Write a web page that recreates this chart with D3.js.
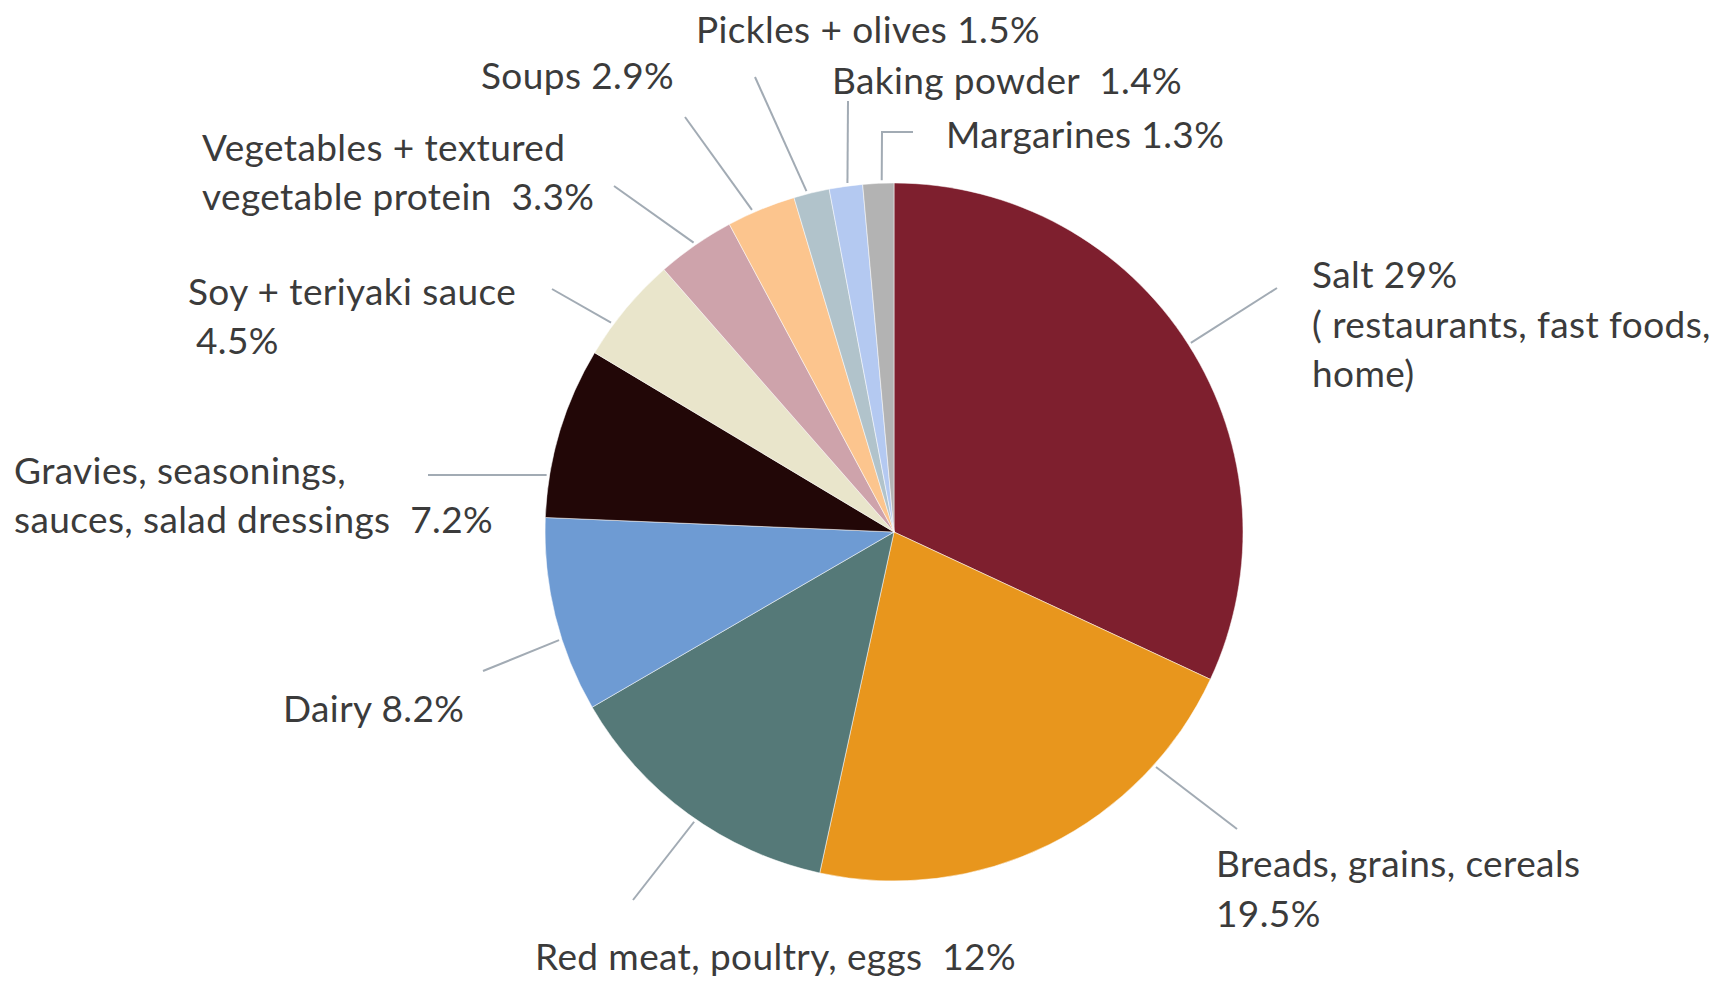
<!DOCTYPE html>
<html>
<head>
<meta charset="utf-8">
<script src="https://cdn.jsdelivr.net/npm/d3@7"></script>
<style>
  html, body { margin: 0; padding: 0; background: #ffffff; }
  svg { display: block; }
  .lbl { font-family: Lato, "Open Sans", sans-serif; font-size: 37px; letter-spacing: 0.4px; fill: #3b3b3b; }
</style>
</head>
<body>
<svg id="chart" width="1720" height="981"></svg>
<script>
// Sources of sodium in the diet (percent shares)
const categories = [
  "Salt", "Breads, grains, cereals", "Red meat, poultry, eggs", "Dairy",
  "Gravies, seasonings, sauces, salad dressings", "Soy + teriyaki sauce",
  "Vegetables + textured vegetable protein", "Soups", "Pickles + olives",
  "Baking powder", "Margarines"
];
const values = [29, 19.5, 12, 8.2, 7.2, 4.5, 3.3, 2.9, 1.5, 1.4, 1.3];
const colors = [
  "#7e1f2e", "#e8961d", "#557978", "#6e9bd3", "#220707", "#e9e5cb",
  "#cea3ab", "#fcc58e", "#b1c3cb", "#b4c9f1", "#b3b3b3"
];
const labelLines = [
  ["Salt 29%", "( restaurants, fast foods,", "home)"],
  ["Breads, grains, cereals", "19.5%"],
  ["Red meat, poultry, eggs  12%"],
  ["Dairy 8.2%"],
  ["Gravies, seasonings,", "sauces, salad dressings  7.2%"],
  ["Soy + teriyaki sauce", "4.5%"],
  ["Vegetables + textured", "vegetable protein  3.3%"],
  ["Soups 2.9%"],
  ["Pickles + olives 1.5%"],
  ["Baking powder  1.4%"],
  ["Margarines 1.3%"]
];

// Label placement: text line anchors, the angle (deg) where the leader meets
// the rim, and the leader's outer points.
const labelLayout = [
  { lines: [[1312, 288], [1312, 338], [1312, 387]], angle: 57.5,  leader: [[1277, 288]] },
  { lines: [[1216, 877], [1216, 927]],              angle: 131.9, leader: [[1237, 829]] },
  { lines: [[535, 970]],                            angle: 214.6, leader: [[633, 900]] },
  { lines: [[283, 722]],                            angle: 252.1, leader: [[483, 671]] },
  { lines: [[14, 484], [14, 533]],                  angle: 279.3, leader: [[428, 475]] },
  { lines: [[188, 305], [196, 354]],                angle: 306.5, leader: [[552, 289]] },
  { lines: [[202, 161], [202, 210]],                angle: 325.3, leader: [[614, 186]] },
  { lines: [[481, 89]],                             angle: 336.2, leader: [[685, 117]] },
  { lines: [[696, 43]],                             angle: 345.6, leader: [[755, 77]] },
  { lines: [[832, 94]],                             angle: 352.4, leader: [[848, 101]] },
  { lines: [[946, 148]],                            angle: 358.0, leader: [[882, 132], [913, 132]] }
];

const cx = 894, cy = 532, radius = 349;
const svg = d3.select("#chart");

const pie = d3.pie().sort(null).value(d => d.value).startAngle(0).endAngle(2 * Math.PI);
const arc = d3.arc().innerRadius(0).outerRadius(radius);
const data = categories.map((c, i) => ({ name: c, value: values[i], color: colors[i] }));
const arcs = pie(data);

const g = svg.append("g").attr("transform", `translate(${cx},${cy})`);
g.selectAll("path.slice")
  .data(arcs)
  .join("path")
  .attr("class", "slice")
  .attr("d", arc)
  .attr("fill", d => d.data.color)
  .attr("stroke", "#ffffff")
  .attr("stroke-opacity", 0.5)
  .attr("stroke-width", 1);

// Leader lines from rim to label
const rimPoint = (deg, r) => {
  const a = deg * Math.PI / 180;
  return [cx + r * Math.sin(a), cy - r * Math.cos(a)];
};
const line = d3.line();
svg.append("g").selectAll("path.leader")
  .data(labelLayout)
  .join("path")
  .attr("class", "leader")
  .attr("d", d => line([rimPoint(d.angle, radius + 3), ...d.leader]))
  .attr("fill", "none")
  .attr("stroke", "#a2abb4")
  .attr("stroke-width", 2);

// Labels
const lg = svg.append("g");
labelLayout.forEach((lay, i) => {
  labelLines[i].forEach((txt, j) => {
    lg.append("text")
      .attr("class", "lbl")
      .attr("x", lay.lines[j][0])
      .attr("y", lay.lines[j][1])
      .attr("xml:space", "preserve")
      .style("white-space", "pre")
      .text(txt);
  });
});
</script>
</body>
</html>
